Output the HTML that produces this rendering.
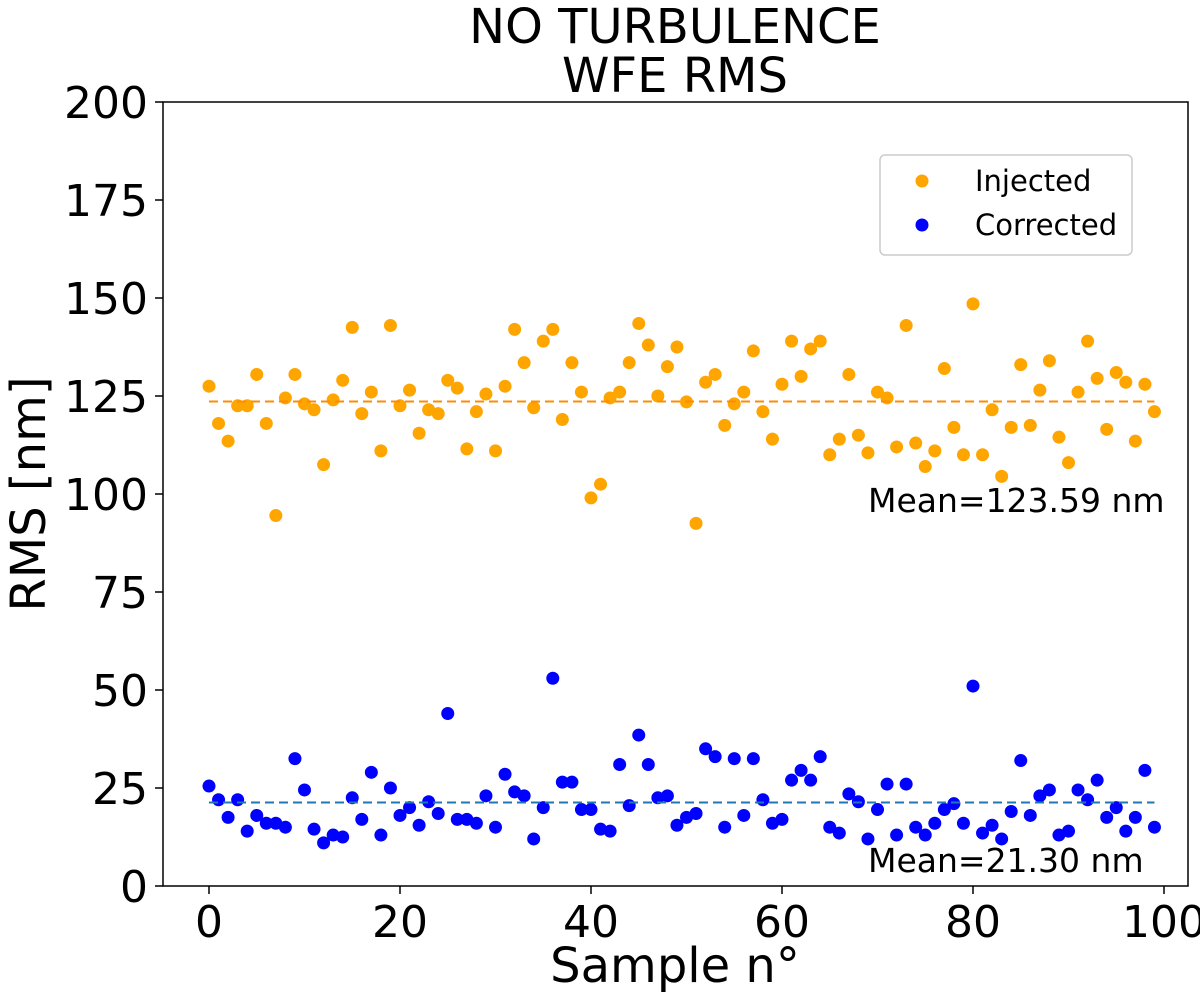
<!DOCTYPE html>
<html><head><meta charset="utf-8"><style>
body{margin:0;background:#fff;}
svg text{font-family:"DejaVu Sans","Liberation Sans",sans-serif;fill:#000;}
</style></head><body>
<svg id="chart" width="1200" height="1003" xmlns="http://www.w3.org/2000/svg">
<text x="675" y="43" font-size="48" text-anchor="middle">NO TURBULENCE</text>
<text x="675" y="92" font-size="48" text-anchor="middle">WFE RMS</text>
<g id="plot"></g>
<rect x="163" y="102" width="1025" height="784" fill="none" stroke="#000" stroke-width="1.5"/>
<text transform="translate(45,494) rotate(-90)" font-size="48" text-anchor="middle">RMS [nm]</text>
<text x="675" y="982" font-size="48" text-anchor="middle">Sample n°</text>
<g>
<rect x="880" y="155" width="252" height="100" rx="5" fill="#fff" stroke="#ccc" stroke-width="1.5"/>
<circle cx="922" cy="181" r="6.5" fill="#FFA500"/>
<text x="975" y="191" font-size="29">Injected</text>
<circle cx="922" cy="225" r="6.5" fill="#0000FF"/>
<text x="975" y="235" font-size="29">Corrected</text>
</g>
<text x="868" y="512" font-size="33">Mean=123.59 nm</text>
<text x="868" y="872" font-size="33">Mean=21.30 nm</text>
</svg>
<script>
const injected=[127.5,118,113.5,122.5,122.5,130.5,118,94.5,124.5,130.5,123,121.5,107.5,124,129,142.5,120.5,126,111,143,122.5,126.5,115.5,121.5,120.5,129,127,111.5,121,125.5,111,127.5,142,133.5,122,139,142,119,133.5,126,99,102.5,124.5,126,133.5,143.5,138,125,132.5,137.5,123.5,92.5,128.5,130.5,117.5,123,126,136.5,121,114,128,139,130,137,139,110,114,130.5,115,110.5,126,124.5,112,143,113,107,111,132,117,110,148.5,110,121.5,104.5,117,133,117.5,126.5,134,114.5,108,126,139,129.5,116.5,131,128.5,113.5,128,121];
const corrected=[25.5,22,17.5,22,14,18,16,16,15,32.5,24.5,14.5,11,13,12.5,22.5,17,29,13,25,18,20,15.5,21.5,18.5,44,17,17,16,23,15,28.5,24,23,12,20,53,26.5,26.5,19.5,19.5,14.5,14,31,20.5,38.5,31,22.5,23,15.5,17.5,18.5,35,33,15,32.5,18,32.5,22,16,17,27,29.5,27,33,15,13.5,23.5,21.5,12,19.5,26,13,26,15,13,16,19.5,21,16,51,13.5,15.5,12,19,32,18,23,24.5,13,14,24.5,22,27,17.5,20,14,17.5,29.5,15];
const injectedMean=[123.59];
const correctedMean=[21.30];
const yTicks=[0,25,50,75,100,125,150,175,200];
const xTicks=[0,20,40,60,80,100];
const NS="http://www.w3.org/2000/svg";
const X=v=>209+v*9.55;
const Y=v=>886-v*3.92;
const g=document.getElementById('plot');
function mk(t,a,p){const e=document.createElementNS(NS,t);for(const k in a)e.setAttribute(k,a[k]);(p||g).appendChild(e);return e;}
yTicks.forEach(v=>{
 const l=mk('line',{x1:155,x2:163,y1:Y(v),y2:Y(v),stroke:'#000','stroke-width':1.5});
 
 
 const t=mk('text',{x:148,y:Y(v)+16,'font-size':44,'text-anchor':'end'});
 t.textContent=v;
 
 
});
xTicks.forEach(v=>{
 const l=mk('line',{x1:X(v),x2:X(v),y1:886,y2:894,stroke:'#000','stroke-width':1.5});
 
 
 const t=mk('text',{x:X(v),y:937,'font-size':44,'text-anchor':'middle'});
 t.textContent=v;
 
 
});
injected.forEach((v,i)=>{
 const c=mk('circle',{cx:X(i),cy:Y(v),r:6.5,fill:'#FFA500'});
 
 
});
corrected.forEach((v,i)=>{
 const c=mk('circle',{cx:X(i),cy:Y(v),r:6.5,fill:'#0000FF'});
 
 
});
const m1=mk('line',{x1:X(0),x2:X(99),y1:Y(injectedMean[0]),y2:Y(injectedMean[0]),stroke:'#FF8C00','stroke-width':2,'stroke-dasharray':'9,5'});


const m2=mk('line',{x1:X(0),x2:X(99),y1:Y(correctedMean[0]),y2:Y(correctedMean[0]),stroke:'#1f77b4','stroke-width':2,'stroke-dasharray':'9,5'});


</script>
</body></html>
